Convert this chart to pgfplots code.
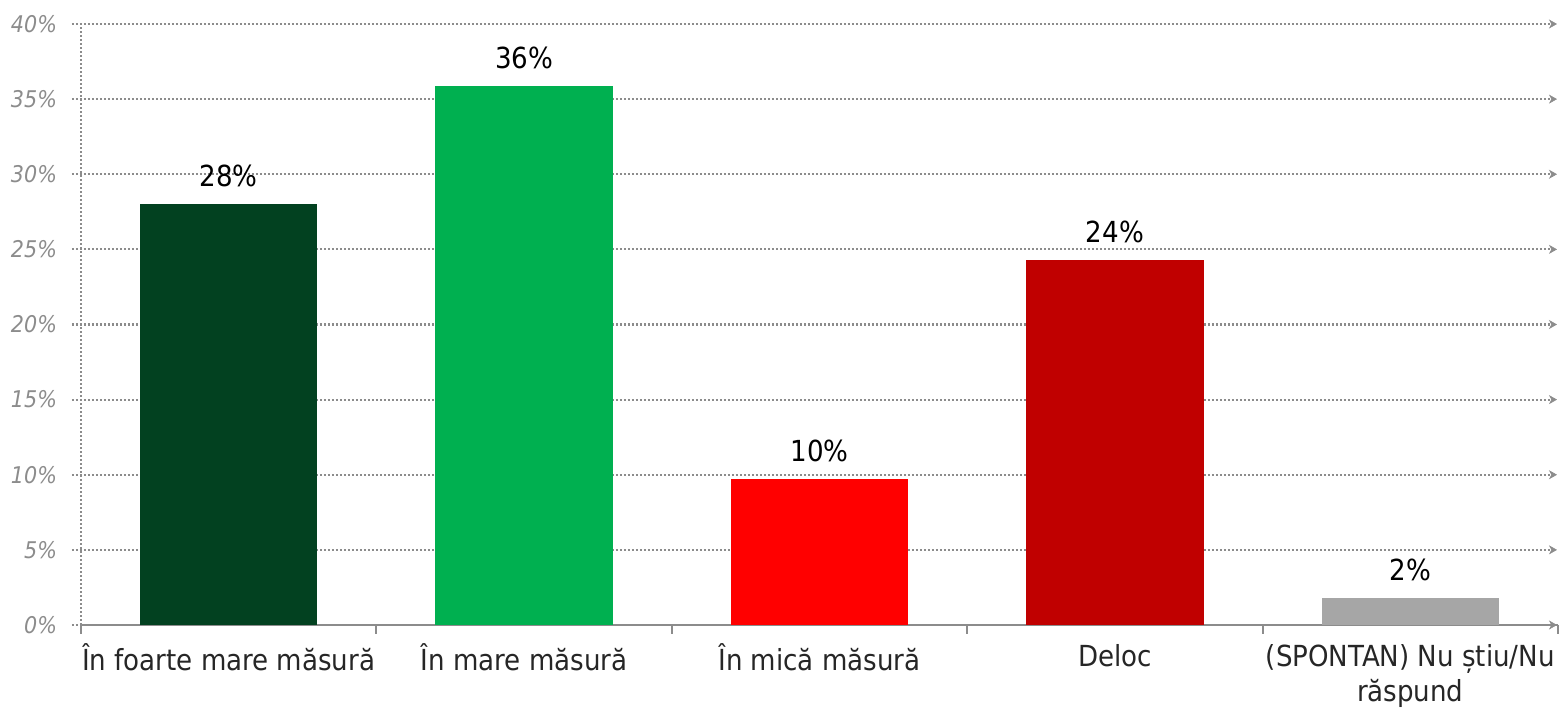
\documentclass[border=0pt]{standalone}
\usepackage{pgfplots}
\pgfplotsset{compat=1.18}
\usepackage{fontspec}
\setmainfont{DejaVu Sans Condensed}
\usetikzlibrary{arrows.meta}

\definecolor{dkgreen}{HTML}{024120}
\definecolor{brgreen}{HTML}{00B050}
\definecolor{brred}{HTML}{FF0000}
\definecolor{dkred}{HTML}{C00000}
\definecolor{ltgray}{HTML}{A6A6A6}
\definecolor{gridgray}{HTML}{8C8C8C}

\begin{document}
\begin{tikzpicture}
\useasboundingbox (-40.5pt,-42.5pt) rectangle (739.5pt,312.5pt);
\begin{axis}[
  at={(0,0)}, anchor=south west,
  scale only axis,
  width=738.5pt, height=300.5pt,
  ybar, bar width=0.6, bar shift=0pt,
  xmin=-0.5, xmax=4.5,
  ymin=0, ymax=40,
  axis x line*=bottom,
  axis y line*=left,
  x axis line style={gridgray, line width=1.2pt},
  y axis line style={draw=none},
  xtick={0,1,2,3,4},
  xticklabels={În foarte mare măsură, În mare măsură, În mică măsură, Deloc, {(SPONTAN) Nu știu/Nu\\răspund}},
  minor xtick={-0.5,0.5,1.5,2.5,3.5,4.5},
  major tick length=0pt,
  minor tick length=4.5pt,
  tick align=outside,
  xtick style={gridgray, line width=1pt},
  ytick style={draw=none},
  ytick={0,5,...,40},
  yticklabels={0\%,5\%,10\%,15\%,20\%,25\%,30\%,35\%,40\%},
  /pgf/number format/assume math mode=true,
  yticklabel style={font=\fontsize{11.5}{13}\selectfont\itshape, text=gridgray, anchor=east, xshift=-8.5pt},
  xticklabel style={font=\fontsize{14.5}{17.5}\selectfont, text=black!85, align=center, yshift=-6pt},
  nodes near coords={\pgfmathprintnumber[fixed,precision=0]{\pgfplotspointmeta}\%},
  nodes near coords style={font=\fontsize{14.5}{16}\selectfont, text=black, anchor=south, yshift=5pt},
  clip=false,
]
\draw[gridgray, line width=1.1pt, dash pattern=on 1.1pt off 0.9pt]
  (axis cs:-0.5,0) -- (axis cs:-0.5,40);
\pgfplotsinvokeforeach{0,5,10,15,20,25,30,35,40}{
  \draw[gridgray, line width=1.1pt, dash pattern=on 1.1pt off 0.9pt,
        -{Stealth[length=4pt,width=4.5pt,inset=1.2pt,line width=0.3pt]}]
    ([xshift=-4.5pt]axis cs:-0.5,#1) -- ([xshift=-0.5pt]axis cs:4.5,#1);
}
\addplot[fill=dkgreen, draw=none] coordinates {(0,28.0)};
\addplot[fill=brgreen, draw=none] coordinates {(1,35.9)};
\addplot[fill=brred, draw=none] coordinates {(2,9.7)};
\addplot[fill=dkred, draw=none] coordinates {(3,24.3)};
\addplot[fill=ltgray, draw=none] coordinates {(4,1.8)};
\end{axis}
\end{tikzpicture}
\end{document}
